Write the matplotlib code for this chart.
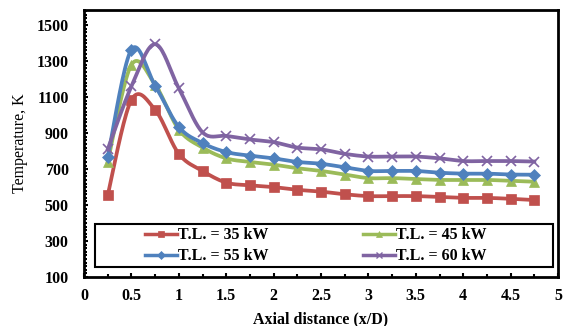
import matplotlib
matplotlib.use('Agg')
import matplotlib.pyplot as plt
import numpy as np
from matplotlib.ticker import MultipleLocator
from matplotlib.patches import Rectangle

x = [0.25, 0.5, 0.75, 1.0, 1.25, 1.5, 1.75, 2.0, 2.25, 2.5, 2.75,
     3.0, 3.25, 3.5, 3.75, 4.0, 4.25, 4.5, 4.75]
t35 = [555, 1085, 1030, 785, 690, 625, 610, 600, 585, 575, 560,
       550, 550, 550, 545, 540, 540, 535, 528]
t45 = [740, 1280, 1170, 920, 820, 760, 740, 725, 705, 690, 670,
       650, 650, 645, 640, 640, 640, 635, 630]
t55 = [765, 1365, 1165, 935, 845, 795, 775, 760, 740, 730, 710,
       690, 690, 690, 680, 675, 675, 670, 669]
t60 = [810, 1160, 1395, 1150, 905, 885, 865, 850, 820, 810, 785,
       770, 770, 770, 760, 745, 745, 745, 742]
labels = ['T.L. = 35 kW', 'T.L. = 45 kW', 'T.L. = 55 kW', 'T.L. = 60 kW']
xticks = [0, 0.5, 1, 1.5, 2, 2.5, 3, 3.5, 4, 4.5, 5]
xticklabels = ['0', '0.5', '1', '1.5', '2', '2.5', '3', '3.5', '4', '4.5', '5']


def smooth(xs, ys, n=20):
    # catmull-rom style smoothing like excel "smoothed line"
    xs = np.asarray(xs, float)
    ys = np.asarray(ys, float)
    px = np.concatenate([[xs[0]], xs, [xs[-1]]])
    py = np.concatenate([[ys[0]], ys, [ys[-1]]])
    ox, oy = [], []
    t = np.linspace(0, 1, n, endpoint=False)
    for i in range(1, len(px) - 2):
        p0, p1, p2, p3 = px[i-1], px[i], px[i+1], px[i+2]
        q0, q1, q2, q3 = py[i-1], py[i], py[i+1], py[i+2]
        c1x = p1 + (p2 - p0) / 6
        c1y = q1 + (q2 - q0) / 6
        c2x = p2 - (p3 - p1) / 6
        c2y = q2 - (q3 - q1) / 6
        bx = (1-t)**3*p1 + 3*(1-t)**2*t*c1x + 3*(1-t)*t**2*c2x + t**3*p2
        by = (1-t)**3*q1 + 3*(1-t)**2*t*c1y + 3*(1-t)*t**2*c2y + t**3*q2
        ox.extend(bx)
        oy.extend(by)
    ox.append(xs[-1])
    oy.append(ys[-1])
    return np.array(ox), np.array(oy)


plt.rcParams['font.family'] = ['Liberation Serif', 'DejaVu Serif']
fs = 11.5

fig = plt.figure(figsize=(5.66, 3.26), dpi=100)
ax = fig.add_axes([0.1484, 0.1503, 0.8375, 0.819])

series = [t35, t45, t55, t60]
colors = ['#C0504D', '#9BBB59', '#4F81BD', '#8064A2']
markers = ['s', '^', 'D', 'x']
msizes = [7, 7, 6, 7]

handles = []
for ys, c, m, ms, lab in zip(series, colors, markers, msizes, labels):
    sx, sy = smooth(x, ys)
    ax.plot(sx, sy, color=c, lw=2.7)
    ax.plot(x, ys, linestyle='none', marker=m, color=c, ms=ms,
            markeredgewidth=1.2 if m == 'x' else 0.5)
    h, = ax.plot([], [], color=c, lw=2.5, marker=m, ms=ms - 2,
                 markeredgewidth=1.0 if m == 'x' else 0.5, label=lab)
    handles.append(h)

ax.set_xlim(0, 5)
ax.set_ylim(100, 1585)
ax.set_xticks(xticks)
ax.set_xticklabels(xticklabels)
ax.set_yticks(range(100, 1501, 200))
ax.xaxis.set_minor_locator(MultipleLocator(0.25))
ax.yaxis.set_minor_locator(MultipleLocator(20))
ax.tick_params(which='both', direction='in', top=False, right=False,
               labelsize=fs, width=1.5)
ax.tick_params(which='major', length=3)
ax.tick_params(which='minor', length=2.5)
ax.tick_params(axis='y', pad=11)
ax.tick_params(axis='x', pad=8)
for lbl in ax.get_xticklabels() + ax.get_yticklabels():
    lbl.set_fontweight('bold')
for s in ax.spines.values():
    s.set_linewidth(2)

ax.set_xlabel('Axial distance (x/D)', fontsize=fs, fontweight='bold',
              labelpad=5)
ax.set_ylabel('Temperature, K', fontsize=fs, labelpad=6)

# legend box spans nearly the full width like the original
ax.add_patch(Rectangle((0.023, 0.037), 0.966, 0.161, transform=ax.transAxes,
                       fill=True, facecolor='white', edgecolor='black',
                       lw=1.5, zorder=4))
order = [0, 2, 1, 3]
leg = ax.legend([handles[i] for i in order], [labels[i] for i in order],
                loc='center', ncol=2, frameon=False,
                prop={'size': fs, 'weight': 'bold'},
                bbox_to_anchor=(0.489, 0.117),
                handlelength=2.0, handletextpad=0.1, columnspacing=5.9,
                borderpad=0.2, labelspacing=0.3, borderaxespad=0)
leg.set_zorder(5)

fig.savefig('out.png', dpi=100)
